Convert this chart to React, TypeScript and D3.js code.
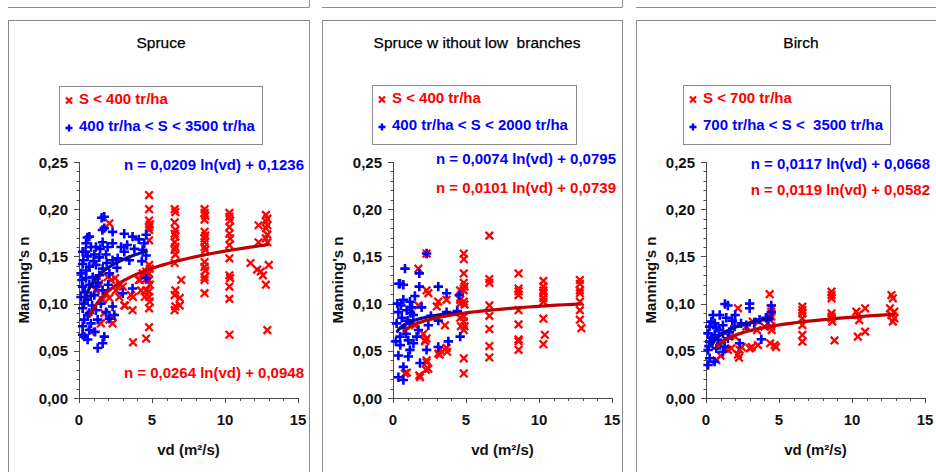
import React from 'react';
import * as d3 from 'd3';

type Pt = [number, number];

// ---- Spruce ----
const spruceLow: Pt[] = [
  [2.08, 0.185], [1.96, 0.128], [2.2, 0.125], [1.85, 0.111], [2.53, 0.114], [1.62, 0.104], [2.08, 0.106],
  [1.73, 0.09], [2.3, 0.086], [2.08, 0.083], [1.5, 0.079], [2.3, 0.079], [0.82, 0.07], [3.1, 0.098],
  [3.56, 0.109], [3.67, 0.093], [3.0, 0.118], [4.1, 0.125], [4.25, 0.114], [4.36, 0.132], [4.6, 0.063],
  [3.7, 0.059], [4.5, 0.107], [2.76, 0.107], [1.16, 0.114], [1.39, 0.121], [2.47, 0.127], [2.8, 0.12],
  [4.18, 0.125], [3.15, 0.098], [3.7, 0.107],
  [4.8, 0.215], [4.8, 0.2], [4.8, 0.188], [4.85, 0.184], [4.8, 0.181], [4.8, 0.178], [4.8, 0.167],
  [4.8, 0.141], [4.85, 0.137], [4.8, 0.132], [4.8, 0.125], [4.85, 0.12], [4.8, 0.113], [4.8, 0.107],
  [4.85, 0.102], [4.8, 0.095], [4.8, 0.075], [4.6, 0.134], [4.6, 0.126], [4.6, 0.114],
  [6.55, 0.2], [6.6, 0.197], [6.55, 0.186], [6.6, 0.178], [6.55, 0.174], [6.6, 0.171], [6.55, 0.165],
  [6.6, 0.16], [6.55, 0.157], [6.6, 0.152], [6.55, 0.143], [6.6, 0.114], [6.55, 0.109], [6.6, 0.097],
  [6.55, 0.093], [6.9, 0.098], [7.0, 0.125], [6.9, 0.106],
  [8.6, 0.2], [8.6, 0.196], [8.65, 0.193], [8.6, 0.189], [8.6, 0.176], [8.65, 0.172], [8.6, 0.169],
  [8.6, 0.165], [8.6, 0.16], [8.65, 0.157], [8.6, 0.144], [8.6, 0.139], [8.65, 0.135], [8.6, 0.128],
  [8.6, 0.125], [8.6, 0.111],
  [10.3, 0.196], [10.3, 0.192], [10.35, 0.188], [10.3, 0.181], [10.3, 0.174], [10.35, 0.169], [10.3, 0.162],
  [10.3, 0.148], [10.3, 0.13], [10.35, 0.127], [10.3, 0.118], [10.3, 0.105], [10.3, 0.067],
  [12.8, 0.194], [12.9, 0.19], [12.8, 0.187], [12.9, 0.183], [12.8, 0.18], [12.9, 0.173], [12.8, 0.169],
  [12.9, 0.165], [13.0, 0.141], [12.8, 0.12], [12.9, 0.072], [12.3, 0.183], [12.3, 0.165], [12.45, 0.134],
  [11.75, 0.143], [12.2, 0.136], [12.6, 0.13],
];

const spruceHigh: Pt[] = [
  [1.73, 0.192], [1.55, 0.191], [1.73, 0.18], [1.6, 0.178], [2.3, 0.176], [3.1, 0.174], [3.67, 0.171],
  [0.71, 0.171], [0.57, 0.17], [0.48, 0.164], [0.82, 0.16], [1.16, 0.16], [1.62, 0.165], [1.96, 0.16],
  [2.3, 0.164], [2.88, 0.16], [3.1, 0.155], [3.79, 0.158], [4.47, 0.164], [4.6, 0.173], [4.36, 0.157],
  [4.6, 0.151], [0.25, 0.155], [0.59, 0.15], [1.05, 0.152], [1.39, 0.149], [1.85, 0.152], [2.3, 0.146],
  [2.65, 0.148], [3.45, 0.146], [0.3, 0.146], [0.25, 0.142], [0.71, 0.139], [1.16, 0.141], [1.62, 0.137],
  [0.14, 0.132], [0.48, 0.127], [0.94, 0.128], [1.39, 0.13], [2.08, 0.132], [0.25, 0.118], [0.71, 0.12],
  [1.16, 0.118], [1.62, 0.114], [4.6, 0.127], [3.67, 0.116], [3.0, 0.111], [0.14, 0.107], [0.59, 0.104],
  [1.05, 0.109], [1.5, 0.1], [2.3, 0.097], [0.25, 0.095], [0.71, 0.09], [1.16, 0.093], [1.85, 0.091],
  [2.42, 0.088], [0.36, 0.083], [0.82, 0.079], [1.28, 0.083], [2.08, 0.084], [0.25, 0.076], [0.71, 0.072],
  [0.25, 0.067], [0.59, 0.062], [1.73, 0.065], [1.62, 0.058], [1.28, 0.053], [0.36, 0.065],
  [0.4, 0.112], [0.9, 0.098], [1.3, 0.122], [0.5, 0.135], [1.0, 0.145], [0.2, 0.125], [0.8, 0.108],
  [1.45, 0.158], [2.0, 0.12], [2.6, 0.138], [0.35, 0.1], [0.6, 0.088], [1.1, 0.07], [0.45, 0.155],
  [1.9, 0.143], [3.3, 0.162], [4.1, 0.168], [4.3, 0.145],
];

// ---- Spruce without low branches ----
const prunedLow: Pt[] = [
  [4.85, 0.153], [4.85, 0.147], [4.85, 0.132], [4.85, 0.122], [4.9, 0.118], [4.85, 0.114], [4.85, 0.102],
  [4.9, 0.099], [4.85, 0.086], [4.85, 0.081], [4.9, 0.076], [4.85, 0.072], [4.85, 0.042], [4.85, 0.026],
  [4.6, 0.114], [4.6, 0.104], [4.6, 0.1], [4.6, 0.085], [4.65, 0.076],
  [6.6, 0.172], [6.6, 0.126], [6.6, 0.122], [6.6, 0.098], [6.6, 0.087], [6.6, 0.073], [6.6, 0.055], [6.6, 0.043],
  [8.6, 0.132], [8.6, 0.116], [8.6, 0.113], [8.6, 0.109], [8.6, 0.093], [8.6, 0.078], [8.6, 0.062],
  [8.6, 0.06], [8.6, 0.051],
  [10.3, 0.124], [10.3, 0.118], [10.3, 0.114], [10.3, 0.111], [10.3, 0.106], [10.3, 0.102], [10.3, 0.084],
  [10.4, 0.067], [10.3, 0.057],
  [12.8, 0.125], [12.8, 0.121], [12.8, 0.114], [12.8, 0.111], [12.8, 0.102], [12.8, 0.093], [12.8, 0.083],
  [12.9, 0.074],
  [1.74, 0.137], [2.3, 0.114], [2.42, 0.111], [1.74, 0.098], [3.1, 0.102], [3.0, 0.097], [3.67, 0.104],
  [3.56, 0.077], [2.3, 0.063], [2.2, 0.06], [3.1, 0.047], [3.2, 0.051], [3.67, 0.053], [2.3, 0.04],
  [2.42, 0.031], [1.8, 0.024], [0.82, 0.026], [1.5, 0.077], [2.08, 0.068], [1.85, 0.022], [0.95, 0.027],
  [2.3, 0.038], [2.2, 0.061], [3.2, 0.046], [3.7, 0.049], [2.25, 0.03], [2.3, 0.153],
];

const prunedHigh: Pt[] = [
  [2.3, 0.153], [0.82, 0.137], [1.8, 0.132], [0.48, 0.121], [0.71, 0.12], [3.1, 0.118], [1.8, 0.118],
  [3.67, 0.111], [4.54, 0.109], [0.71, 0.104], [1.16, 0.102], [0.37, 0.091], [0.94, 0.093], [1.39, 0.088],
  [1.96, 0.096], [2.42, 0.077], [3.1, 0.082], [3.67, 0.091], [0.25, 0.079], [0.82, 0.074], [1.16, 0.079],
  [1.74, 0.072], [0.48, 0.065], [1.05, 0.061], [1.62, 0.065], [2.3, 0.051], [3.1, 0.054], [3.79, 0.06],
  [4.6, 0.065], [0.37, 0.045], [1.05, 0.044], [0.71, 0.033], [1.85, 0.037], [0.37, 0.022], [0.71, 0.019],
  [1.16, 0.051], [0.3, 0.1], [0.6, 0.085], [1.3, 0.096], [0.5, 0.056], [0.9, 0.068], [1.5, 0.108],
  [0.2, 0.06], [1.4, 0.058], [0.4, 0.121], [1.0, 0.082], [2.6, 0.087], [4.4, 0.092], [1.2, 0.09], [0.55, 0.098],
];

// ---- Birch ----
const birchLow: Pt[] = [
  [4.36, 0.11], [4.47, 0.0914], [4.47, 0.0862], [4.4, 0.0826], [4.47, 0.0756], [4.5, 0.072], [4.4, 0.058],
  [4.7, 0.056], [4.8, 0.054], [4.5, 0.095],
  [6.6, 0.0968], [6.6, 0.0932], [6.6, 0.0897], [6.6, 0.0844], [6.6, 0.0773], [6.6, 0.0668], [6.6, 0.0597],
  [8.6, 0.1126], [8.6, 0.109], [8.6, 0.1056], [8.6, 0.0897], [8.6, 0.0862], [8.6, 0.0844], [8.65, 0.081],
  [8.8, 0.061],
  [10.3, 0.0914], [10.4, 0.0879], [10.5, 0.0826], [10.9, 0.095], [10.4, 0.065], [10.9, 0.0703],
  [12.7, 0.109], [12.8, 0.1056], [12.6, 0.095], [12.9, 0.0914], [12.7, 0.0879], [12.9, 0.0844], [12.8, 0.081],
  [2.19, 0.095], [1.5, 0.051], [0.71, 0.04], [2.3, 0.051], [2.19, 0.046], [2.26, 0.0427], [3.0, 0.0526],
  [3.56, 0.056], [4.0, 0.0756], [2.76, 0.0756], [3.2, 0.081], [1.73, 0.0526], [2.44, 0.054], [3.13, 0.054],
  [1.0, 0.045], [2.0, 0.065], [3.5, 0.072],
];

const birchHigh: Pt[] = [
  [2.99, 0.1], [2.99, 0.095], [1.5, 0.098], [4.47, 0.098], [4.47, 0.091], [0.48, 0.088], [0.94, 0.088],
  [1.39, 0.085], [3.67, 0.083], [4.25, 0.083], [0.25, 0.0756], [0.71, 0.074], [1.16, 0.077], [1.96, 0.0756],
  [2.76, 0.077], [0.14, 0.0685], [0.59, 0.0668], [1.16, 0.0685], [0.25, 0.0597], [0.82, 0.0614], [1.5, 0.0632],
  [3.79, 0.0622], [2.3, 0.058], [0.14, 0.0509], [0.71, 0.0526], [1.16, 0.049], [0.25, 0.0421], [0.59, 0.0385],
  [0.14, 0.035], [1.28, 0.0544], [0.36, 0.0809], [1.3, 0.0996],
  [0.4, 0.064], [0.9, 0.072], [1.8, 0.082], [2.4, 0.079], [3.3, 0.08], [4.1, 0.085], [0.2, 0.055],
  [1.0, 0.058], [0.6, 0.079], [2.0, 0.088], [1.6, 0.07],
];

// Logarithmic trend lines n = a ln(vd) + b, and the vd span each one covers
const spruceLowFit = { a: 0.0264, b: 0.0948, from: 0.75, to: 12.9 };
const spruceHighFit = { a: 0.0209, b: 0.1236, from: 0.3, to: 4.6 };
const prunedLowFit = { a: 0.0101, b: 0.0739, from: 0.75, to: 12.9 };
const prunedHighFit = { a: 0.0074, b: 0.0795, from: 0.3, to: 4.6 };
const birchLowFit = { a: 0.0119, b: 0.0582, from: 0.7, to: 12.9 };
const birchHighFit = { a: 0.0117, b: 0.0668, from: 0.4, to: 4.5 };

const xTicks = [0, 5, 10, 15];
const yTicks = [0, 0.05, 0.1, 0.15, 0.2, 0.25];

const RED = '#ff0000';
const BLUE = '#0000ff';
const FONT = '"Liberation Sans", Arial, sans-serif';
const PLOT_TOP = 162;
const PLOT_BOTTOM = 398;
const PLOT_W = 219;

type Fit = { a: number; b: number; from: number; to: number };

interface PanelSpec {
  boxX: number;
  boxRight: number;
  axisX: number;
  title: string;
  titleX: number;
  legendBox: [number, number, number, number];
  lowLabel: string;
  highLabel: string;
  low: Pt[];
  high: Pt[];
  lowFit: Fit;
  highFit: Fit;
  highEq: [number, number];
  lowEq: [number, number];
}

const panels: PanelSpec[] = [
  {
    boxX: 8, boxRight: 309, axisX: 79, title: 'Spruce', titleX: 161,
    legendBox: [59, 86, 203, 58],
    lowLabel: 'S < 400 tr/ha', highLabel: '400 tr/ha < S < 3500 tr/ha',
    low: spruceLow, high: spruceHigh, lowFit: spruceLowFit, highFit: spruceHighFit,
    highEq: [304, 170], lowEq: [304, 378],
  },
  {
    boxX: 322, boxRight: 622, axisX: 393, title: 'Spruce w ithout low  branches', titleX: 477,
    legendBox: [372, 85, 204, 59],
    lowLabel: 'S < 400 tr/ha', highLabel: '400 tr/ha < S < 2000 tr/ha',
    low: prunedLow, high: prunedHigh, lowFit: prunedLowFit, highFit: prunedHighFit,
    highEq: [616, 164], lowEq: [616, 193],
  },
  {
    boxX: 636, boxRight: 960, axisX: 706, title: 'Birch', titleX: 801,
    legendBox: [683, 85, 207, 59],
    lowLabel: 'S < 700 tr/ha', highLabel: '700 tr/ha < S <  3500 tr/ha',
    low: birchLow, high: birchHigh, lowFit: birchLowFit, highFit: birchHighFit,
    highEq: [930, 169], lowEq: [930, 195],
  },
];

const comma = (v: number, digits: number) => v.toFixed(digits).replace('.', ',');
const eqText = (f: Fit) => `n = ${comma(f.a, 4)} ln(vd) + ${comma(f.b, 4)}`;

const Cross = ({ x, y, r = 3.8, w = 2.3 }: { x: number; y: number; r?: number; w?: number }) => (
  <path d={`M${x - r},${y - r}L${x + r},${y + r}M${x - r},${y + r}L${x + r},${y - r}`} stroke={RED} strokeWidth={w} fill="none" />
);
const Plus = ({ x, y, r = 4.7, w = 2.6 }: { x: number; y: number; r?: number; w?: number }) => (
  <path d={`M${x - r},${y}H${x + r}M${x},${y - r}V${y + r}`} stroke={BLUE} strokeWidth={w} fill="none" />
);

function Panel({ p }: { p: PanelSpec }) {
  const x = d3.scaleLinear().domain([0, 15]).range([p.axisX, p.axisX + PLOT_W]);
  const y = d3.scaleLinear().domain([0, 0.25]).range([PLOT_BOTTOM, PLOT_TOP]);
  const line = d3.line<number>().x((v) => x(v)).curve(d3.curveLinear);
  const fitPath = (f: Fit) => {
    const xs = d3.range(0, 61).map((i) => f.from * Math.pow(f.to / f.from, i / 60));
    return line.y((v) => y(f.a * Math.log(v) + f.b))(xs) || '';
  };
  const yMinor = d3.range(0, 26).map((i) => i / 100);
  const xMinor = d3.range(0, 16);
  const [lx, ly, lw, lh] = p.legendBox;
  const axisColor = '#4a4a4a';
  return (
    <g>
      {/* frame */}
      <line x1={p.boxX} x2={Math.min(p.boxRight, 936)} y1={7.5} y2={7.5} stroke="#8c8c8c" />
      {p.boxRight < 936 && <line x1={p.boxRight + 0.5} x2={p.boxRight + 0.5} y1={0} y2={7.5} stroke="#8c8c8c" />}
      <rect x={p.boxX + 0.5} y={20.5} width={p.boxRight - p.boxX} height={480} fill="#fff" stroke="#8c8c8c" />
      <text x={p.titleX} y={48} textAnchor="middle" fontSize={15.5} fill="#000" stroke="#000" strokeWidth={0.25} style={{ whiteSpace: 'pre' }}>{p.title}</text>

      {/* legend */}
      <rect x={lx + 0.5} y={ly + 0.5} width={lw} height={lh} fill="#fff" stroke="#8c8c8c" />
      <Cross x={lx + 10} y={ly + 14.5} r={3} w={2.2} />
      <text x={lx + 20} y={ly + 18} fontSize={15} fontWeight="bold" fill={RED} style={{ whiteSpace: 'pre' }}>{p.lowLabel}</text>
      <Plus x={lx + 10} y={ly + 42} r={3.5} w={2.4} />
      <text x={lx + 20} y={ly + 45} fontSize={15} fontWeight="bold" fill={BLUE} style={{ whiteSpace: 'pre' }}>{p.highLabel}</text>

      {/* y axis */}
      <line x1={p.axisX + 0.5} x2={p.axisX + 0.5} y1={PLOT_TOP} y2={PLOT_BOTTOM} stroke={axisColor} />
      {yMinor.map((v) => (
        <line key={`ym${v}`} x1={p.axisX - 2.5} x2={p.axisX} y1={Math.round(y(v)) + 0.5} y2={Math.round(y(v)) + 0.5} stroke={axisColor} />
      ))}
      {yTicks.map((v) => (
        <g key={`y${v}`}>
          <line x1={p.axisX - 5} x2={p.axisX} y1={Math.round(y(v)) + 0.5} y2={Math.round(y(v)) + 0.5} stroke={axisColor} />
          <text x={p.axisX - 11} y={y(v) + 5.5} textAnchor="end" fontSize={15} fontWeight="bold" fill="#111">{comma(v, 2)}</text>
        </g>
      ))}
      {/* x axis */}
      <line x1={p.axisX} x2={p.axisX + PLOT_W} y1={PLOT_BOTTOM + 0.5} y2={PLOT_BOTTOM + 0.5} stroke={axisColor} />
      {xMinor.map((v) => (
        <line key={`xm${v}`} x1={Math.round(x(v)) + 0.5} x2={Math.round(x(v)) + 0.5} y1={PLOT_BOTTOM} y2={PLOT_BOTTOM + 3} stroke={axisColor} />
      ))}
      {xTicks.map((v) => (
        <g key={`x${v}`}>
          <line x1={Math.round(x(v)) + 0.5} x2={Math.round(x(v)) + 0.5} y1={PLOT_BOTTOM} y2={PLOT_BOTTOM + 5} stroke={axisColor} />
          <text x={x(v)} y={425} textAnchor="middle" fontSize={15} fontWeight="bold" fill="#111">{v}</text>
        </g>
      ))}
      <text x={p.axisX + PLOT_W / 2} y={455} textAnchor="middle" fontSize={15} fontWeight="bold" fill="#111">vd (m²/s)</text>
      <text transform={`translate(${p.axisX - 50},${(PLOT_TOP + PLOT_BOTTOM) / 2}) rotate(-90)`} textAnchor="middle" fontSize={15} fontWeight="bold" fill="#111">Manning's n</text>

      {/* points */}
      {p.low.map(([vx, vy], i) => <Cross key={`l${i}`} x={x(vx)} y={y(vy)} />)}
      {p.high.map(([vx, vy], i) => <Plus key={`h${i}`} x={x(vx)} y={y(vy)} />)}

      {/* trend lines */}
      <path d={fitPath(p.highFit)} fill="none" stroke="#0a0a9a" strokeWidth={3.2} strokeLinecap="round" />
      <path d={fitPath(p.lowFit)} fill="none" stroke="#c00000" strokeWidth={3.2} strokeLinecap="round" />

      {/* equations */}
      <text x={p.highEq[0]} y={p.highEq[1]} textAnchor="end" fontSize={15} fontWeight="bold" fill={BLUE}>{eqText(p.highFit)}</text>
      <text x={p.lowEq[0]} y={p.lowEq[1]} textAnchor="end" fontSize={15} fontWeight="bold" fill={RED}>{eqText(p.lowFit)}</text>
    </g>
  );
}

export default function App() {
  return (
    <svg width={936} height={472} viewBox="0 0 936 472" style={{ position: 'absolute', left: 0, top: 0, background: '#fff', fontFamily: FONT }}>
      <rect width={936} height={472} fill="#fff" />
      {panels.map((p) => <Panel key={p.title} p={p} />)}
    </svg>
  );
}
